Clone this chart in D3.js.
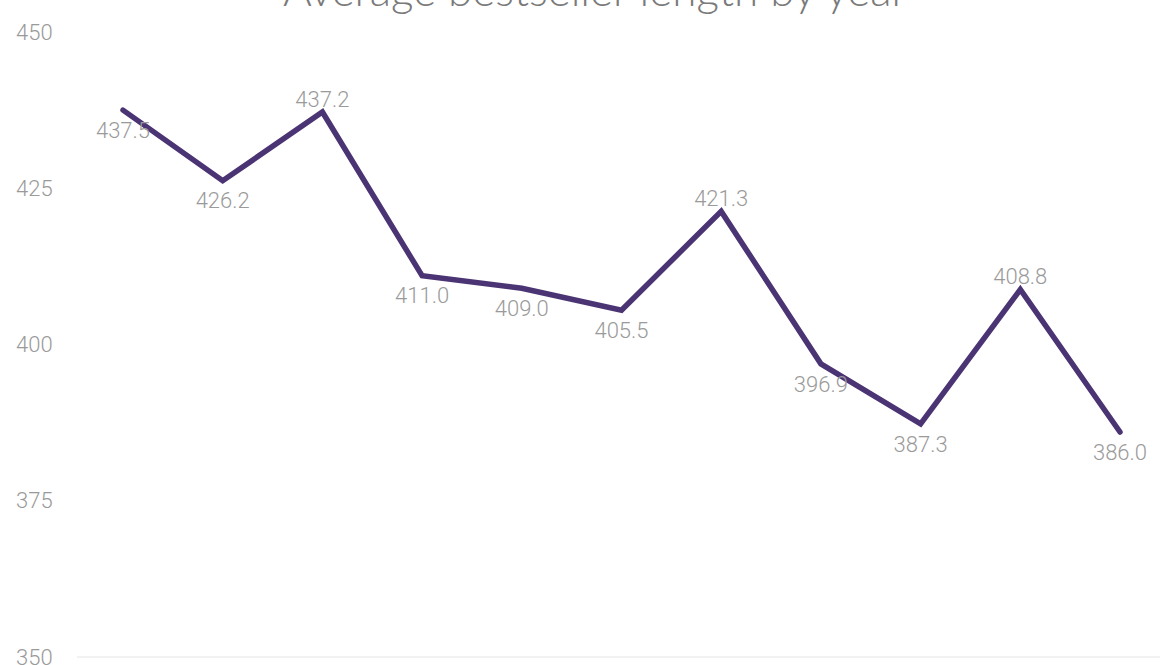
<!DOCTYPE html>
<html>
<head>
<meta charset="utf-8">
<script src="https://cdn.jsdelivr.net/npm/d3@7"></script>
<style>
    body { margin: 0; background: #fff; }
    svg { display: block; }
    .tick-label { font-family: Roboto, sans-serif; font-weight: 300; font-size: 22px; fill: #9a9a9a; }
    .value-label { font-family: Roboto, sans-serif; font-weight: 300; font-size: 22px; fill: #9a9a9a; }
    .title { font-family: Lato, sans-serif; font-weight: 300; font-size: 44px; fill: #7a7a7a; }
</style>
</head>
<body>
<svg id="chart"></svg>
<script>
// values, one per year in order
const points = [0, 1, 2, 3, 4, 5, 6, 7, 8, 9, 10];
const lengths = [437.5, 426.2, 437.2, 411.0, 409.0, 405.5, 421.3, 396.9, 387.3, 408.8, 386.0];
const yTicks = [350, 375, 400, 425, 450];
const chartTitle = 'Average bestseller length by year';

const width = 1160, height = 665;

const svg = d3.select('#chart')
    .attr('width', width)
    .attr('height', height);

const xScale = d3.scalePoint()
    .domain(points)
    .range([123, 1120]);

const yScale = d3.scaleLinear()
    .domain([350, 450])
    .range([657, 32]);

// faint baseline at the bottom of the scale
svg.append('line')
    .attr('x1', 77)
    .attr('x2', width)
    .attr('y1', yScale(350))
    .attr('y2', yScale(350))
    .attr('stroke', '#eeeeee')
    .attr('stroke-width', 1.5);

// y tick labels, left aligned
svg.selectAll('.tick-label')
    .data(yTicks)
    .enter()
    .append('text')
    .attr('class', 'tick-label')
    .attr('x', 16)
    .attr('y', d => yScale(d))
    .attr('dy', '0.35em')
    .text(d => d);

const line = d3.line()
    .x((d, i) => xScale(points[i]))
    .y(d => yScale(d));

svg.append('path')
    .datum(lengths)
    .attr('fill', 'none')
    .attr('stroke', '#4b3473')
    .attr('stroke-width', 5.5)
    .attr('stroke-linejoin', 'miter')
    .attr('stroke-linecap', 'round')
    .attr('d', line);

// peaks get their label above, everything else below
const isPeak = i => i > 0 && i < lengths.length - 1 &&
    lengths[i] > lengths[i - 1] && lengths[i] > lengths[i + 1];

svg.selectAll('.value-label')
    .data(lengths)
    .enter()
    .append('text')
    .attr('class', 'value-label')
    .attr('x', (d, i) => xScale(points[i]))
    .attr('y', (d, i) => yScale(d) + (isPeak(i) ? -13 : 20))
    .attr('dy', '0.35em')
    .attr('text-anchor', 'middle')
    .text(d => d.toFixed(1));

svg.append('text')
    .attr('class', 'title')
    .attr('x', 595)
    .attr('y', 6)
    .attr('text-anchor', 'middle')
    .text(chartTitle);
</script>
</body>
</html>
